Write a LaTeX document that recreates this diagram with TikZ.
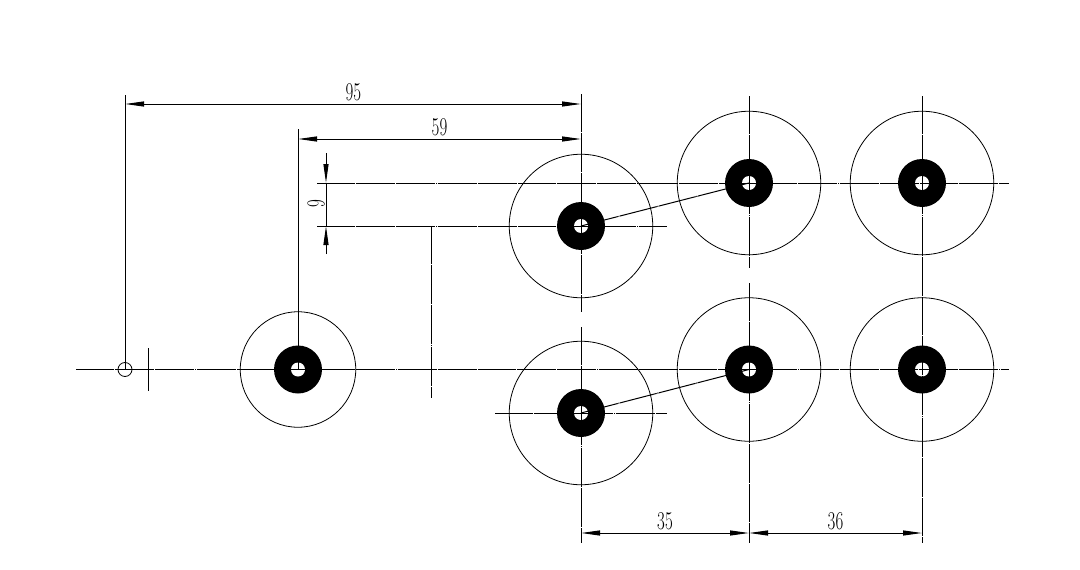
\documentclass[tikz,border=0pt]{standalone}
\usepackage{graphicx}
\usetikzlibrary{arrows.meta}
\newcommand{\dimnum}[1]{\scalebox{.68}[1.03]{#1}}
\tikzset{
  part/.style={line width=1pt},
  centre/.style={line width=1pt,dash pattern=on 38pt off .6pt on 1pt off .6pt},
  dimline/.style={line width=1pt,{Triangle[length=19pt,width=5pt]}-{Triangle[length=19pt,width=5pt]}},
  inarrow/.style={line width=1pt,-{Triangle[length=19pt,width=5pt]}},
  rim/.style={circle,draw,line width=.8pt,inner sep=0pt,minimum size=#1},
  ring/.style={circle,fill=black,inner sep=0pt,minimum size=48pt},
  hole/.style={circle,fill=white,inner sep=0pt,minimum size=14pt},
  dimtext/.style={font=\fontsize{24.88}{25}\selectfont,inner sep=0pt}
}
\begin{document}
\begin{tikzpicture}[x=1pt,y=-1pt]
\useasboundingbox (0,0) rectangle (1080,570);

% the six bosses
\foreach \name/\x/\y/\size in {p/298/369.5/115.5pt,a/581/226/143.5pt,b/581/413/143.5pt,c/749/183/143.5pt,d/749/369.5/143.5pt,e/922/183/143.5pt,f/922/369.5/143.5pt}{
  \node[rim=\size] (rim\name) at (\x,\y) {};
  \node[ring] (ring\name) at (\x,\y) {};
  \node[hole] (\name) at (\x,\y) {};
}
\node[rim=14pt] (origin) at (125,369.5) {};

% free ends of the lines
\coordinate (axisL) at (76,369.5);
\coordinate (axisR) at (1009,369.5);
\coordinate (upL) at (317,183);
\coordinate (upR) at (1009,183);
\coordinate (midL) at (317,226);
\coordinate (midR) at (667,226);
\coordinate (lowL) at (495,413);
\coordinate (lowR) at (667,413);
\coordinate (stemT) at (431,226);
\coordinate (stemB) at (431,398);
\coordinate (tickT) at (148,348);
\coordinate (tickB) at (148,391);
\coordinate (orgT) at (125,95);
\coordinate (pT) at (298,129);
\coordinate (aT) at (581,94);
\coordinate (aB) at (581,312);
\coordinate (bT) at (581,327);
\coordinate (bB) at (581,543);
\coordinate (cT) at (749,96);
\coordinate (cB) at (749,268);
\coordinate (dT) at (749,283);
\coordinate (dB) at (749,543);
\coordinate (eT) at (922,96);
\coordinate (eB) at (922,543);

% centre lines
\draw[centre] (axisL) -- (axisR);
\draw[centre] (upL) -- (upR);
\draw[centre] (midL) -- (midR);
\draw[centre] (lowL) -- (lowR);
\draw[centre] (stemT) -- (stemB);
\draw[centre] (aT) -- (aB);
\draw[centre] (bT) -- (bB);
\draw[centre] (cT) -- (cB);
\draw[centre] (dT) -- (dB);
\draw[centre] (eT) -- (eB);
\draw[part] (tickT) -- (tickB);
\draw[part] (orgT) -- (origin.center);
\draw[part] (pT) -- (p.center);
\draw[centre] (a.center) -- (c.center);
\draw[centre] (b.center) -- (d.center);

% dimensions
\coordinate (d95L) at (125,104);
\coordinate (d95R) at (581,104);
\coordinate (d59L) at (298,139);
\coordinate (d59R) at (581,139);
\coordinate (d35L) at (581,533);
\coordinate (d35R) at (749,533);
\coordinate (d36R) at (922,533);
\coordinate (d9T) at (326,153);
\coordinate (d9U) at (326,183);
\coordinate (d9L) at (326,226);
\coordinate (d9B) at (326,254);
\draw[dimline] (d95L) -- (d95R) node[dimtext,pos=.501,above=3pt] (t95) {\dimnum{95}};
\draw[dimline] (d59L) -- (d59R) node[dimtext,pos=.5,above=3pt] (t59) {\dimnum{59}};
\draw[dimline] (d35L) -- (d35R) node[dimtext,pos=.5,above=3pt] (t35) {\dimnum{35}};
\draw[dimline] (d35R) -- (d36R) node[dimtext,pos=.5,above=3pt] (t36) {\dimnum{36}};
\draw[inarrow] (d9T) -- (d9U);
\draw[inarrow] (d9B) -- (d9L);
\draw[part] (d9U) -- (d9L);
\node[dimtext,rotate=90] (t9) at (316,203.5) {\dimnum{9}};

\end{tikzpicture}
\end{document}
